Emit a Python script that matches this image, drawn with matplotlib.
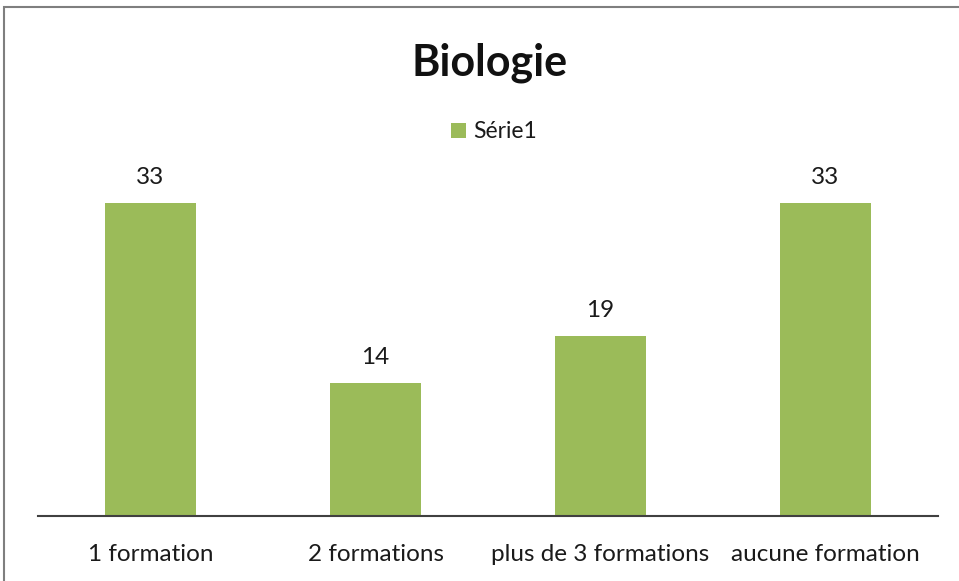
import matplotlib
matplotlib.use("Agg")
import matplotlib.pyplot as plt
from matplotlib.patches import Rectangle

categories = ["1 formation", "2 formations", "plus de 3 formations", "aucune formation"]
values = [33, 14, 19, 33]
series_name = "Série1"
title = "Biologie"

plt.rcParams['font.family'] = ['Lato', 'DejaVu Sans']

fig = plt.figure(figsize=(9.59, 5.81), dpi=100)
W, H = 959, 581
# frame around the chart
fig.patches.append(Rectangle((4 / W, -0.1), 1.2, 1 - 7 / H + 0.1, transform=fig.transFigure,
                             fill=False, edgecolor="#7f7f7f", linewidth=1.5))

ax = fig.add_axes([38 / W, 1 - 516 / H, 900 / W, (516 - 174.5) / H])
x = range(len(categories))
bars = ax.bar(x, values, width=0.405, color="#9BBB59", label=series_name, zorder=2)
ax.set_xlim(-0.5, len(categories) - 0.5)
ax.set_ylim(0, 36)
for xi, v in zip(x, values):
    ax.text(xi, v + 1.6, str(v), ha="center", va="bottom", fontsize=17.5, color="#1a1a1a")

for s in ["top", "right", "left"]:
    ax.spines[s].set_visible(False)
ax.spines["bottom"].set_color("#404040")
ax.spines["bottom"].set_linewidth(1.5)
ax.set_yticks([])
ax.set_xticks(list(x))
ax.set_xticklabels(categories, fontsize=17.5, color="#1a1a1a")
ax.tick_params(axis="x", length=0, pad=20)

fig.text(490 / W, 1 - 63 / H, title, ha="center", va="center", fontsize=31, fontweight="bold", color="#111111")
leg = fig.legend(handles=[bars], labels=[series_name], loc="center", bbox_to_anchor=(494 / W, 1 - 132 / H),
                 frameon=False, fontsize=16.5, handlelength=0.65, handleheight=0.65, handletextpad=0.3)
for t in leg.get_texts():
    t.set_color("#1a1a1a")

fig.savefig("out.png", dpi=100)
